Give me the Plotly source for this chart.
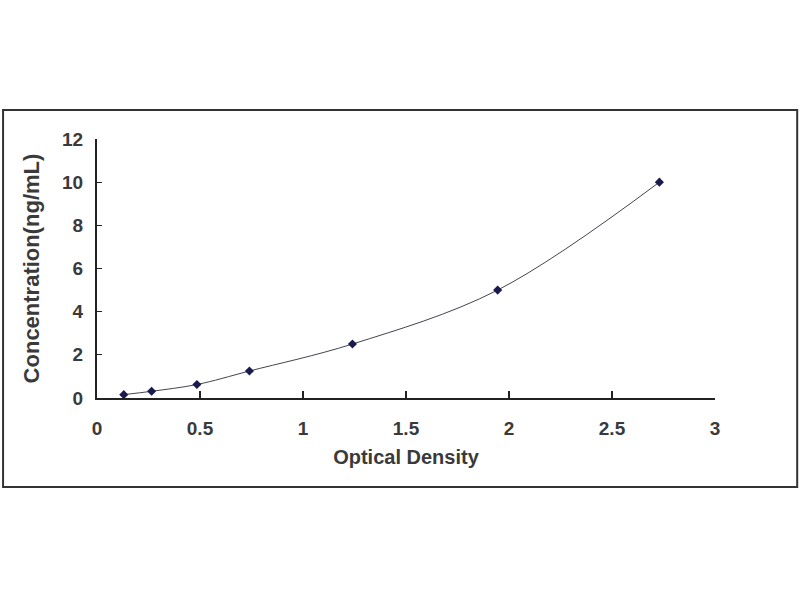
import plotly.graph_objects as go

# standard curve points
od = [0.13, 0.265, 0.485, 0.74, 1.24, 1.945, 2.73]
conc = [0.156, 0.312, 0.625, 1.25, 2.5, 5.0, 10.0]

x_ticks = [0, 0.5, 1, 1.5, 2, 2.5, 3]
y_ticks = [0, 2, 4, 6, 8, 10, 12]

fig = go.Figure()
fig.add_trace(go.Scatter(x=od, y=conc,
                         mode='lines+markers',
                         line=dict(shape='spline', color='#44444f', width=1),
                         marker=dict(symbol='diamond', size=7, color='#1a1a50'),
                         showlegend=False))

txt = dict(family='Liberation Sans', size=19, color='#3a3a3a', weight='bold')
fig.update_layout(width=800, height=600,
                  paper_bgcolor='white', plot_bgcolor='white',
                  margin=dict(l=97, r=85, t=139, b=202),
                  font=txt)
fig.update_xaxes(range=[0, 3], tickvals=x_ticks,
                 showline=True, linecolor='#222222', linewidth=2,
                 ticks='inside', ticklen=7, tickcolor='#222222', tickwidth=2,
                 showgrid=False, zeroline=False,
                 tickfont=txt, ticklabelstandoff=12,
                 title=dict(text='Optical Density', standoff=12,
                            font=dict(txt, size=20)))
fig.update_yaxes(range=[0, 12], tickvals=y_ticks,
                 showline=True, linecolor='#222222', linewidth=2,
                 ticks='inside', ticklen=5, tickcolor='#222222', tickwidth=1,
                 showgrid=False, zeroline=False,
                 tickfont=txt, ticklabelstandoff=8,
                 title=dict(text='Concentration(ng/mL)', standoff=16,
                            font=dict(txt, size=22)))

# outer chart frame
fig.add_shape(type='rect', xref='paper', yref='paper',
              x0=-0.152, x1=1.133, y0=-0.344, y1=1.112,
              line=dict(color='#333333', width=2))

fig.write_html("out.html", config={'displayModeBar': False},
               post_script="document.body.style.margin='0';")
